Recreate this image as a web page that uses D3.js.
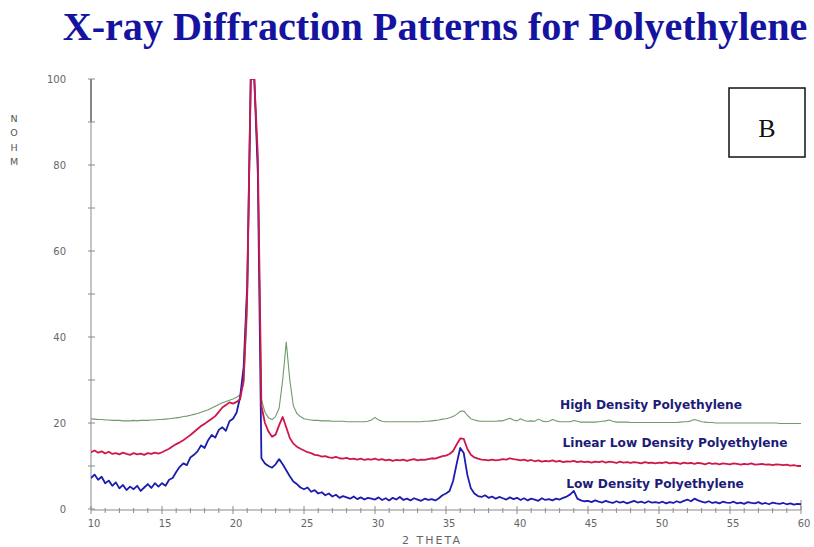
<!DOCTYPE html>
<html>
<head>
<meta charset="utf-8">
<script src="https://cdn.jsdelivr.net/npm/d3@7"></script>
<style>
  html, body { margin: 0; padding: 0; background: #fff; }
  svg { display: block; }
</style>
</head>
<body>
<svg id="chart" width="814" height="547"></svg>
<script>
// 2-theta scan: 10° to 60° sampled every 0.25°
const thetaStart = 10, thetaStep = 0.25;

// Intensity (relative %) for each sample, one row per 5°
const hdpe = [
  21.0, 20.9, 20.8, 20.8, 20.7, 20.7, 20.6, 20.6, 20.6, 20.5, 20.5, 20.5, 20.6, 20.5, 20.6, 20.6, 20.6, 20.7, 20.7, 20.8,
  20.8, 20.9, 21.0, 21.1, 21.2, 21.3, 21.5, 21.6, 21.8, 22.0, 22.2, 22.5, 22.8, 23.1, 23.5, 23.9, 24.3, 24.7, 25.0, 25.3,
  25.6, 26.0, 26.5, 29.0, 45.0, 100, 100, 80.0, 25.5, 22.5, 21.2, 20.8, 21.5, 23.5, 30.0, 38.8, 30.0, 24.0, 22.2, 21.5,
  21.0, 20.8, 20.7, 20.6, 20.6, 20.5, 20.5, 20.5, 20.4, 20.4, 20.4, 20.4, 20.3, 20.3, 20.3, 20.3, 20.3, 20.3, 20.4, 20.7,
  21.3, 20.7, 20.4, 20.3, 20.3, 20.3, 20.3, 20.3, 20.3, 20.3, 20.3, 20.3, 20.3, 20.3, 20.4, 20.4, 20.5, 20.6, 20.7, 20.9,
  21.0, 21.2, 21.5, 22.0, 22.7, 22.8, 21.8, 21.0, 20.7, 20.5, 20.4, 20.4, 20.4, 20.4, 20.4, 20.5, 20.5, 20.8, 21.1, 20.7,
  20.5, 21.0, 20.6, 20.4, 20.5, 20.4, 20.9, 20.5, 20.3, 20.4, 20.8, 20.5, 20.3, 20.3, 20.3, 20.3, 20.6, 20.4, 20.2, 20.2,
  20.2, 20.2, 20.2, 20.3, 20.4, 20.5, 20.7, 20.4, 20.2, 20.2, 20.2, 20.2, 20.1, 20.1, 20.1, 20.1, 20.1, 20.1, 20.1, 20.1,
  20.1, 20.1, 20.1, 20.1, 20.1, 20.1, 20.2, 20.3, 20.3, 20.5, 20.8, 20.6, 20.3, 20.2, 20.1, 20.1, 20.0, 20.0, 20.0, 20.0,
  20.0, 20.0, 20.0, 20.0, 20.0, 20.0, 20.0, 20.0, 20.0, 20.0, 20.0, 20.0, 20.0, 20.0, 19.9, 19.9, 19.9, 19.9, 19.9, 19.9,
  19.9
];

const lldpe = [
  13.2, 13.6, 13.1, 13.4, 12.9, 13.3, 12.8, 13.0, 12.7, 13.1, 12.8, 12.6, 13.0, 12.7, 12.9, 12.6, 13.0, 12.8, 13.1, 12.9,
  13.2, 13.6, 14.0, 14.6, 15.1, 15.5, 16.0, 16.6, 17.2, 17.9, 18.6, 19.3, 19.8, 20.4, 21.0, 21.6, 22.6, 23.6, 24.2, 24.8,
  24.5, 24.9, 25.5, 30.0, 50.0, 100, 100, 82.0, 24.0, 20.0, 18.0, 16.8, 17.3, 19.5, 21.4, 19.0, 16.5, 15.2, 14.5, 14.0,
  13.6, 13.2, 13.0, 12.6, 12.5, 12.2, 12.3, 12.0, 11.9, 12.1, 11.8, 11.7, 11.9, 11.6, 11.7, 11.5, 11.7, 11.4, 11.6, 11.5,
  11.7, 11.4, 11.6, 11.3, 11.5, 11.2, 11.4, 11.3, 11.5, 11.2, 11.4, 11.6, 11.3, 11.5, 11.4, 11.6, 11.8, 11.7, 12.0, 12.3,
  12.4, 12.8, 13.5, 15.0, 16.4, 16.3, 14.0, 12.6, 12.0, 11.7, 11.5, 11.4, 11.3, 11.5, 11.3, 11.4, 11.6, 11.5, 11.8, 11.6,
  11.5, 11.3, 11.5, 11.2, 11.4, 11.1, 11.3, 11.0, 11.2, 11.1, 11.3, 11.0, 11.2, 10.9, 11.1, 11.0, 11.2, 10.9, 11.1, 10.9,
  11.0, 10.8, 11.0, 10.9, 11.1, 10.8, 11.0, 10.9, 10.7, 11.0, 10.8, 10.9, 10.7, 10.9, 10.8, 10.6, 10.9, 10.7, 10.8, 10.6,
  10.8, 10.7, 10.9, 10.6, 10.8, 10.7, 10.5, 10.8, 10.6, 10.7, 10.5, 10.7, 10.6, 10.4, 10.7, 10.5, 10.6, 10.4, 10.6, 10.5,
  10.4, 10.6, 10.5, 10.3, 10.5, 10.4, 10.6, 10.3, 10.4, 10.5, 10.3, 10.4, 10.2, 10.4, 10.3, 10.2, 10.3, 10.1, 10.2, 10.0,
  10.0
];

const ldpe = [
  7.2, 8.0, 6.8, 7.5, 6.0, 6.6, 5.4, 6.2, 4.8, 5.6, 4.4, 5.2, 4.6, 5.4, 4.2, 5.0, 5.8, 4.9, 6.0, 5.2,
  6.0, 5.4, 6.8, 7.2, 8.6, 9.8, 10.6, 10.2, 12.0, 12.6, 13.4, 14.8, 14.2, 16.0, 17.2, 16.6, 18.4, 19.0, 18.2, 20.4,
  21.0, 22.4, 26.0, 33.0, 52.0, 100, 100, 78.0, 11.8, 10.6, 10.0, 9.6, 10.4, 11.6, 10.4, 9.0, 7.6, 6.4, 5.8, 5.0,
  4.6, 5.0, 4.0, 4.4, 3.6, 3.9, 3.2, 3.6, 2.9, 3.3, 2.6, 3.0, 2.7, 2.4, 2.9, 2.3, 2.7, 2.2, 2.6, 2.4,
  2.2, 2.7, 2.1, 2.5, 2.0, 2.6, 2.2, 2.8, 2.1, 2.4, 2.0, 2.5, 2.2, 1.9, 2.4, 2.1, 2.3, 2.0, 2.5, 3.2,
  3.6, 4.2, 6.5, 10.5, 14.2, 13.0, 8.0, 4.8, 3.6, 3.0, 2.8, 3.2, 2.6, 2.9, 2.4, 2.8, 2.5, 2.2, 2.7, 2.3,
  2.6, 2.1, 2.5, 2.0, 2.4, 2.2, 1.9, 2.5, 2.1, 2.3, 2.0, 2.4, 2.2, 2.6, 2.9, 3.4, 4.2, 2.4, 2.0, 1.8,
  1.9, 1.6, 2.0, 1.7, 1.5, 1.9, 1.6, 1.4, 1.8, 1.5, 1.7, 1.3, 1.6, 1.9, 1.5, 1.7, 1.4, 1.8, 1.5, 1.6,
  1.4, 1.7, 1.3, 1.6, 1.4, 1.8, 1.5, 1.9, 2.2, 1.8, 2.4, 2.0, 1.7, 1.5, 1.8, 1.4, 1.6, 1.3, 1.7, 1.5,
  1.4, 1.7, 1.3, 1.5, 1.2, 1.6, 1.4, 1.3, 1.6, 1.2, 1.4, 1.1, 1.5, 1.3, 1.2, 1.4, 1.1, 1.3, 1.0, 1.2,
  1.1
];

const seriesNames = ["High Density Polyethylene", "Linear Low Density Polyethylene", "Low Density Polyethylene"];
const seriesColors = ["#6f9a6a", "#d0174a", "#1c1cb0"];
const xTicks = [10, 15, 20, 25, 30, 35, 40, 45, 50, 55, 60];
const yTicks = [0, 20, 40, 60, 80, 100];

const svg = d3.select("#chart");

const x = d3.scaleLinear().domain([10, 60]).range([91, 801]);
const y = d3.scaleLinear().domain([0, 100]).range([509, 79]);

// Title
const title = svg.append("text")
  .attr("x", 435).attr("y", 40)
  .attr("text-anchor", "middle")
  .attr("font-family", "'Liberation Serif', 'Times New Roman', serif")
  .attr("font-weight", "bold")
  .attr("font-size", 35)
  .attr("fill", "#1414a0")
  .text("X-ray Diffraction Patterns for Polyethylene");
const tw = title.node().getComputedTextLength();
title.attr("font-size", 35 * 745 / tw);

const axisColor = "#8a8a8a";
const labelColor = "#666";
const plotFont = "'DejaVu Sans', sans-serif";

// Y axis: line, ticks every 10 units
svg.append("line")
  .attr("x1", x(10)).attr("x2", x(10))
  .attr("y1", y(0)).attr("y2", y(100))
  .attr("stroke", axisColor).attr("stroke-width", 1);
svg.append("line")
  .attr("x1", x(10)).attr("x2", x(10))
  .attr("y1", y(100)).attr("y2", y(90))
  .attr("stroke", "#777").attr("stroke-width", 1.6);
svg.append("g").selectAll("line")
  .data(d3.range(0, 101, 10))
  .join("line")
  .attr("x1", x(10) - 3).attr("x2", x(10) + 4)
  .attr("y1", d => y(d)).attr("y2", d => y(d))
  .attr("stroke", axisColor).attr("stroke-width", 1);
svg.append("g").selectAll("text")
  .data(yTicks)
  .join("text")
  .attr("x", 66)
  .attr("y", d => y(d) + 4)
  .attr("text-anchor", "end")
  .attr("font-family", plotFont)
  .attr("font-size", 10)
  .attr("fill", labelColor)
  .text(d => d);

// Vertical axis caption, stacked letters
svg.append("g").selectAll("text")
  .data(["N", "O", "H", "M"])
  .join("text")
  .attr("x", 14)
  .attr("y", (d, i) => 122 + i * 14.3)
  .attr("text-anchor", "middle")
  .attr("font-family", plotFont)
  .attr("font-size", 9.5)
  .attr("fill", "#555")
  .text(d => d);

// X axis: line, minor ticks every degree, major every 5
const xAxisY = y(0) + 1;
svg.append("line")
  .attr("x1", x(10)).attr("x2", x(60))
  .attr("y1", xAxisY).attr("y2", xAxisY)
  .attr("stroke", axisColor).attr("stroke-width", 1);
svg.append("g").selectAll("line")
  .data(d3.range(10, 61, 1))
  .join("line")
  .attr("x1", d => x(d)).attr("x2", d => x(d))
  .attr("y1", d => xAxisY - (d % 5 === 0 ? 4 : 2))
  .attr("y2", d => xAxisY + (d % 5 === 0 ? 4 : 3))
  .attr("stroke", axisColor).attr("stroke-width", 1);
svg.append("line")
  .attr("x1", x(60)).attr("x2", x(60))
  .attr("y1", xAxisY).attr("y2", xAxisY - 10)
  .attr("stroke", axisColor).attr("stroke-width", 1);
svg.append("g").selectAll("text")
  .data(xTicks)
  .join("text")
  .attr("x", d => x(d) + 3)
  .attr("y", 527)
  .attr("text-anchor", "middle")
  .attr("font-family", plotFont)
  .attr("font-size", 10)
  .attr("fill", labelColor)
  .text(d => d);
svg.append("text")
  .attr("x", 432).attr("y", 544)
  .attr("text-anchor", "middle")
  .attr("font-family", plotFont)
  .attr("font-size", 11)
  .attr("letter-spacing", 2)
  .attr("fill", labelColor)
  .text("2 THETA");

// Traces
const line = d3.line()
  .x((d, i) => x(thetaStart + i * thetaStep))
  .y(d => y(d));

const seriesData = [hdpe, lldpe, ldpe];
const widths = [1.1, 1.8, 1.8];
const drawOrder = [0, 2, 1];
svg.append("defs").append("clipPath").attr("id", "plot-clip")
  .append("rect").attr("x", x(10)).attr("y", y(100)).attr("width", x(60) - x(10)).attr("height", y(0) - y(100));

svg.append("g").attr("clip-path", "url(#plot-clip)")
  .selectAll("path")
  .data(drawOrder)
  .join("path")
  .attr("d", k => line(seriesData[k]))
  .attr("fill", "none")
  .attr("stroke", k => seriesColors[k])
  .attr("stroke-width", k => widths[k])
  .attr("stroke-linejoin", "round");

// Series labels
const labelPos = [[651, 409], [675, 447], [655, 488]];
svg.append("g").selectAll("text")
  .data(seriesNames)
  .join("text")
  .attr("x", (d, i) => labelPos[i][0])
  .attr("y", (d, i) => labelPos[i][1])
  .attr("text-anchor", "middle")
  .attr("font-family", plotFont)
  .attr("font-weight", "bold")
  .attr("font-size", 12.2)
  .attr("fill", "#1c1c78")
  .text(d => d);

// Panel marker
svg.append("rect")
  .attr("x", 729).attr("y", 88)
  .attr("width", 76).attr("height", 69)
  .attr("fill", "#fff")
  .attr("stroke", "#111").attr("stroke-width", 1.5);
svg.append("text")
  .attr("x", 767).attr("y", 137)
  .attr("text-anchor", "middle")
  .attr("font-family", "'Liberation Serif', 'Times New Roman', serif")
  .attr("font-size", 26)
  .attr("fill", "#111")
  .text("B");
</script>
</body>
</html>
